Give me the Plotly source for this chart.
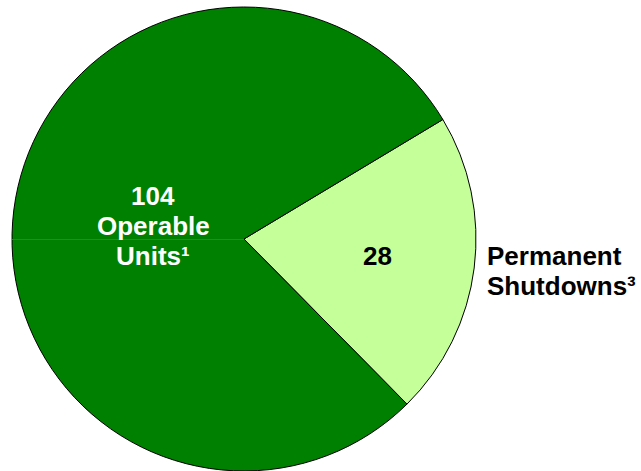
import plotly.graph_objects as go

labels = ["Permanent Shutdowns³", "Operable Units¹"]
values = [28, 104]
colors = ["#C4FF99", "#008000"]
operable_lines = [str(values[1]), "Operable", "Units¹"]
shutdown_lines = ["Permanent", "Shutdowns³"]

W, H = 641, 471
fig = go.Figure(go.Pie(
    labels=labels, values=values, sort=False, direction="clockwise", rotation=59,
    marker=dict(colors=colors, line=dict(color="black", width=1)),
    textinfo="none", hoverinfo="label+value",
    domain=dict(x=[12/W, 476/W], y=[0, 464/H]),
))

font = dict(family="Liberation Sans, Arial, sans-serif", size=26, weight="bold")

def px(x, y):
    return x / W, 1 - y / H

# faint seam in the dark slice
fig.add_shape(type="line", xref="paper", yref="paper",
              x0=12/W, x1=244/W, y0=1-239.5/H, y1=1-239.5/H,
              line=dict(color="#1f8f1f", width=1), layer="above")

for i, t in enumerate(operable_lines):
    x, y = px(153, 196 + 30*i)
    fig.add_annotation(x=x, y=y, xref="paper", yref="paper", xanchor="center",
                       yanchor="middle", text=t, showarrow=False,
                       font=dict(font, color="white"))
x, y = px(377, 256)
fig.add_annotation(x=x, y=y, xref="paper", yref="paper", xanchor="center",
                   yanchor="middle", text=str(values[0]), showarrow=False,
                   font=dict(font, color="black"))
for i, t in enumerate(shutdown_lines):
    x, y = px(485, 256 + 30*i)
    fig.add_annotation(x=x, y=y, xref="paper", yref="paper", xanchor="left",
                       yanchor="middle", text=t, showarrow=False,
                       font=dict(font, color="black"))

fig.update_layout(width=W, height=H, margin=dict(l=0, r=0, t=0, b=0),
                  showlegend=False, paper_bgcolor="white")
fig.write_html("out.html", config={"displayModeBar": False},
               post_script="document.body.style.margin='0';")
